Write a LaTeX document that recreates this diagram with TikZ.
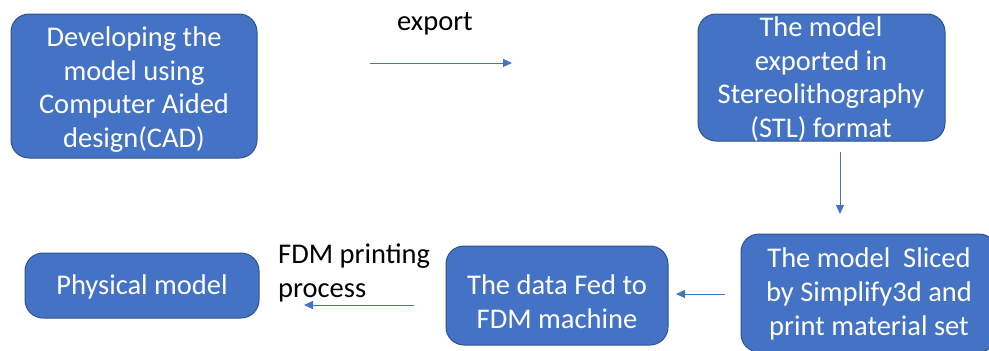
\documentclass[tikz,border=0pt]{standalone}
\usepackage{fontspec}
\setmainfont{Carlito}
\usetikzlibrary{arrows.meta}
\definecolor{boxfill}{HTML}{4472C4}
\definecolor{boxline}{HTML}{2F528F}
\begin{document}
\begin{tikzpicture}[x=1pt,y=-1pt,
 box/.style={draw=boxline, line width=1pt, fill=boxfill, rounded corners=18pt, inner sep=0pt},
 boxtext/.style={text=white, align=center, font=\fontsize{28.5}{33.7}\selectfont, inner sep=0pt},
 lbl/.style={text=black, align=left, font=\fontsize{28.5}{33.7}\selectfont, inner sep=0pt},
 arr/.style={draw=boxfill, line width=1pt, -{Triangle[length=9pt,width=8pt]}}]
\clip (0,0) rectangle (989,351);
\fill[white] (0,0) rectangle (989,351);
% boxes
\node[box, minimum width=246pt, minimum height=144pt] (b1) at (134,86) {};
\node[boxtext] (t1) at (134,89.5) {Developing the\\model using\\Computer Aided\\design(CAD)};
\node[box, minimum width=247pt, minimum height=127pt] (b2) at (821.5,77.5) {};
\node[boxtext] (t2) at (821,79) {The model\\exported in\\Stereolithography\\(STL) format};
\node[box, minimum width=234pt, minimum height=65pt] (b3) at (142,285.5) {};
\node[boxtext] (t3) at (142,287) {Physical model};
\node[box, minimum width=222pt, minimum height=99pt] (b4) at (557,295.5) {};
\node[boxtext] (t4) at (557,302) {The data Fed to\\FDM machine};
\node[box, minimum width=256pt, minimum height=118pt] (b5) at (869,293) {};
\node[boxtext] (t5) at (869,294) {The model~ Sliced\\by Simplify3d and\\print material set};
% connectors
\coordinate (e1) at (370,63); \coordinate (e2) at (512,63);
\draw[arr] (e1) -- (e2);
\node[lbl] (export) at (435,23.5) {export};
\coordinate (d1) at (840,152); \coordinate (d2) at (840,214);
\draw[arr] (d1) -- (d2);
\coordinate (s1) at (725,294); \coordinate (s2) at (676,294);
\draw[arr] (s1) -- (s2);
\coordinate (p1) at (414,305); \coordinate (p2) at (304,305);
\draw[arr] (p1) -- (p2);
\node[lbl, anchor=west] (fdm) at (278,273) {FDM printing\\process};
\end{tikzpicture}
\end{document}
